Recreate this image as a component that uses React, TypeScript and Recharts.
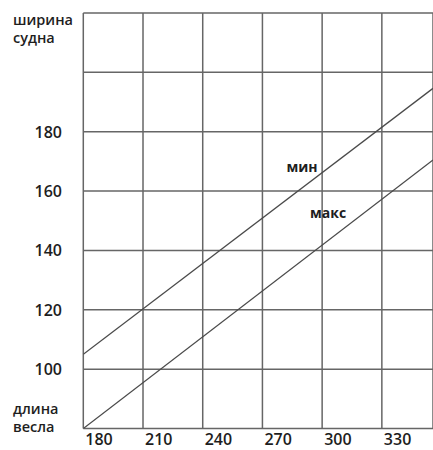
import { LineChart, Line, XAxis, YAxis, CartesianGrid, ReferenceDot } from "recharts";

// oar length (x) and boat width (y), read at the left and right edges of the plot
const oarLength = [180, 355.7];
const minWidth = [105, 194.6];
const maxWidth = [80, 170.5];

const xTicks = [180, 210, 240, 270, 300, 330];
const yTicks = [80, 100, 120, 140, 160, 180, 200, 220];
const yLabels = [100, 120, 140, 160, 180];

const data = oarLength.map((len, i) => ({ len, min: minWidth[i], max: maxWidth[i] }));

const ink = "#1e1e1e";
const font = "'Open Sans', sans-serif";

const XTick = ({ x, payload }: any) => (
  <text x={x + 2} y={445} textAnchor="start" fill={ink} fontSize={16} fontWeight={600} fontFamily={font}>
    {payload.value}
  </text>
);

const YTick = ({ y, payload }: any) => {
  if (!yLabels.includes(payload.value)) return null;
  return (
    <text x={62} y={y + 6} textAnchor="end" fill={ink} fontSize={16} fontWeight={600} fontFamily={font}>
      {payload.value}
    </text>
  );
};

const AxisTitles = () => (
  <g fontFamily={font} fontSize={14.5} fontWeight={600} fill={ink}>
    <text x={13} y={25}>ширина</text>
    <text x={13} y={43}>судна</text>
    <text x={13} y={414}>длина</text>
    <text x={13} y={432}>весла</text>
  </g>
);

export default function App() {
  return (
    <div style={{ position: "absolute", left: 0, top: 0, background: "#fff" }}>
      <LineChart width={433} height={450} data={data} margin={{ top: 13, right: 0, bottom: 0, left: 0 }}>
        <CartesianGrid stroke="#666" strokeWidth={1.5} strokeDasharray="" />
        <XAxis
          dataKey="len"
          type="number"
          domain={[180, 355.7]}
          ticks={xTicks}
          axisLine={false}
          tickLine={false}
          tick={<XTick />}
          height={21.5}
          allowDataOverflow
        />
        <YAxis
          type="number"
          domain={[80, 220]}
          ticks={yTicks}
          axisLine={false}
          tickLine={false}
          tick={<YTick />}
          width={83.3}
          label={{ content: () => <AxisTitles /> }}
        />
        <Line dataKey="min" stroke="#4a4a4a" strokeWidth={1.3} dot={false} isAnimationActive={false} />
        <Line dataKey="max" stroke="#4a4a4a" strokeWidth={1.3} dot={false} isAnimationActive={false} />
        <ReferenceDot
          x={289.9}
          y={168.1}
          r={0}
          fill="none"
          stroke="none"
          label={{ value: "мин", position: "center", fill: ink, fontSize: 14, fontWeight: 700, fontFamily: font }}
        />
        <ReferenceDot
          x={303}
          y={152.6}
          r={0}
          fill="none"
          stroke="none"
          label={{ value: "макс", position: "center", fill: ink, fontSize: 14, fontWeight: 700, fontFamily: font }}
        />
      </LineChart>
    </div>
  );
}
